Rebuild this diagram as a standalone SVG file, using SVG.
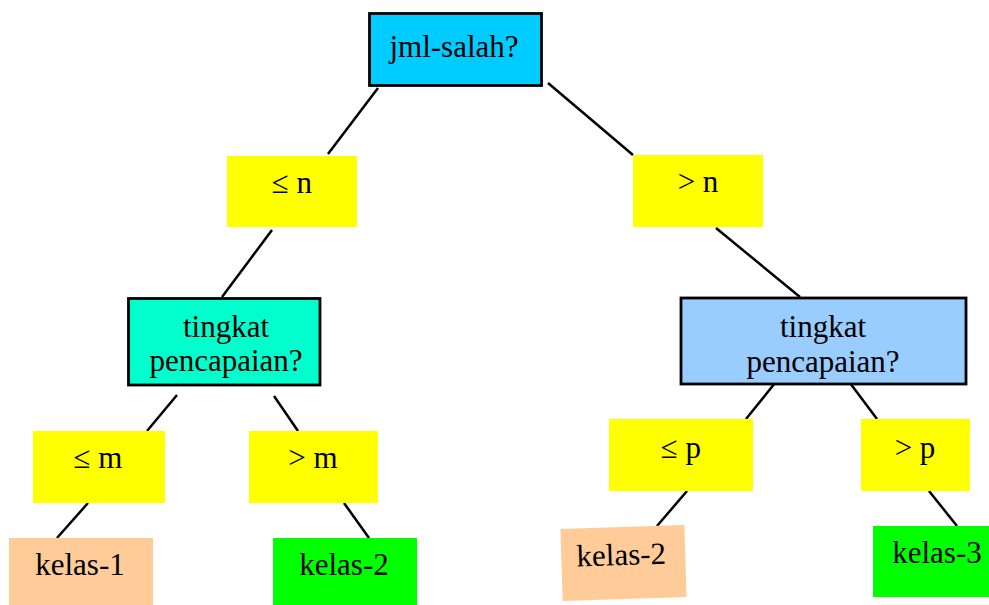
<svg xmlns="http://www.w3.org/2000/svg" width="989" height="605" viewBox="0 0 989 605">
<style>
  .q { stroke: #000; stroke-width: 2.8; }
  .y { fill: #FFFF00; }
  .t { font-family: "Liberation Serif", "Times New Roman", serif; font-size: 31px; fill: #000; text-anchor: middle; }
  .c line { stroke: #000; stroke-width: 2.5; }
</style>
<rect width="989" height="605" fill="#fff"/>
<g id="connectors" class="c">
  <line x1="378" y1="88" x2="328" y2="154"/>
  <line x1="548" y1="83" x2="633" y2="155"/>
  <line x1="272" y1="230" x2="222" y2="297"/>
  <line x1="716" y1="228" x2="800" y2="297"/>
  <line x1="177" y1="395" x2="147" y2="431"/>
  <line x1="274" y1="396" x2="298" y2="431"/>
  <line x1="88" y1="503" x2="57" y2="538"/>
  <line x1="344" y1="503" x2="369" y2="538"/>
  <line x1="775" y1="383" x2="746" y2="419"/>
  <line x1="850" y1="383" x2="877" y2="419"/>
  <line x1="687" y1="491" x2="657" y2="526"/>
  <line x1="929" y1="491" x2="957" y2="526"/>
</g>
<g id="root">
  <rect class="q" x="369.5" y="13.5" width="172" height="72" fill="#00CCFF"/>
  <text class="t" x="454" y="57">jml-salah?</text>
</g>
<g id="le-n">
  <rect class="y" x="227" y="156" width="130" height="71"/>
  <text class="t" x="292" y="193">≤ n</text>
</g>
<g id="gt-n">
  <rect class="y" x="633" y="155" width="130" height="72"/>
  <text class="t" x="698" y="192">&gt; n</text>
</g>
<g id="tingkat-left">
  <rect class="q" x="128.5" y="298.5" width="191.5" height="86.5" fill="#00FFCC"/>
  <text class="t" x="226" y="337">tingkat</text>
  <text class="t" x="226" y="371">pencapaian?</text>
</g>
<g id="tingkat-right">
  <rect class="q" x="681" y="298" width="285" height="86" fill="#99CCFF"/>
  <text class="t" x="823" y="337">tingkat</text>
  <text class="t" x="823" y="372">pencapaian?</text>
</g>
<g id="le-m">
  <rect class="y" x="33" y="431" width="132" height="72"/>
  <text class="t" x="98" y="468">≤ m</text>
</g>
<g id="gt-m">
  <rect class="y" x="249" y="431" width="129" height="72"/>
  <text class="t" x="313" y="468">&gt; m</text>
</g>
<g id="le-p">
  <rect class="y" x="609" y="419" width="144" height="72"/>
  <text class="t" x="681" y="458">≤ p</text>
</g>
<g id="gt-p">
  <rect class="y" x="861" y="419" width="109" height="72"/>
  <text class="t" x="915" y="458">&gt; p</text>
</g>
<g id="kelas-1">
  <rect x="9" y="538" width="144" height="67" fill="#FFCC99"/>
  <text class="t" x="80" y="575">kelas-1</text>
</g>
<g id="kelas-2-left">
  <rect x="273" y="538" width="144" height="67" fill="#00FF00"/>
  <text class="t" x="344" y="575">kelas-2</text>
</g>
<g id="kelas-2-right" transform="rotate(-1.8 623.5 563)">
  <rect x="561.5" y="527" width="124" height="72" fill="#FFCC99"/>
  <text class="t" x="621.5" y="565">kelas-2</text>
</g>
<g id="kelas-3">
  <rect x="873" y="526" width="116" height="71" fill="#00FF00"/>
  <text class="t" x="937" y="563">kelas-3</text>
</g>
</svg>
